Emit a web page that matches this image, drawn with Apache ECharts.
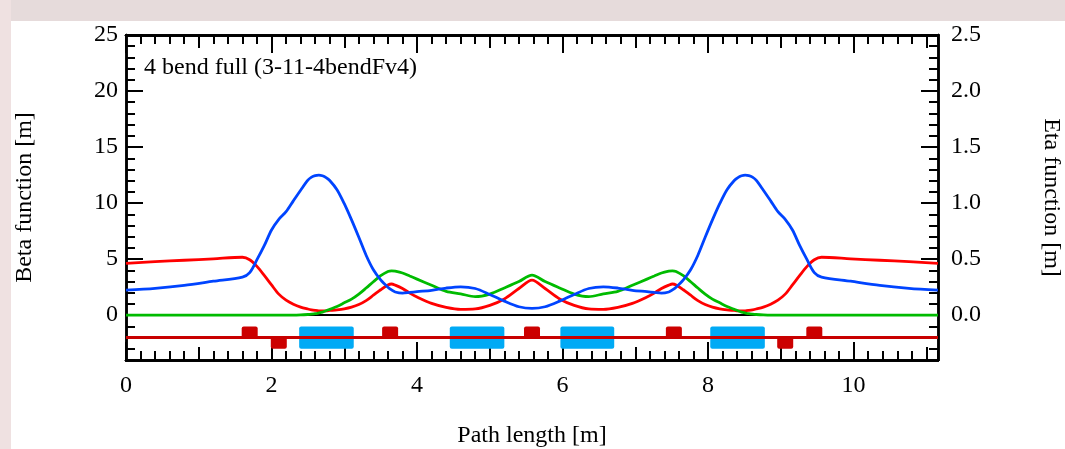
<!DOCTYPE html>
<html>
<head>
<meta charset="utf-8">
<title>4 bend full (3-11-4bendFv4)</title>
<script src="https://cdn.jsdelivr.net/npm/echarts@6/dist/echarts.min.js"></script>
<style>
  html, body { margin: 0; padding: 0; background: #ffffff; }
  #chart { width: 1065px; height: 449px; }
</style>
</head>
<body>
<div id="chart"></div>
<script>
// Lattice optics: path length [m] and the functions sampled along it
const pathLength = [
  0, 0.4, 0.8, 1.2, 1.6, 1.7, 1.8, 1.9, 2.0, 2.1, 2.2, 2.3, 2.4, 2.5, 2.55, 2.6, 2.65, 2.7, 2.75, 2.8,
  2.9, 3.0, 3.1, 3.2, 3.3, 3.4, 3.5, 3.6, 3.65, 3.7, 3.8, 3.9, 4.0, 4.2, 4.4, 4.6, 4.8, 5.0, 5.2, 5.4,
  5.58,
  5.76, 5.96, 6.16, 6.36, 6.56, 6.76, 6.96, 7.16, 7.26, 7.36, 7.46, 7.51, 7.56, 7.66, 7.76, 7.86, 7.96, 8.06, 8.16, 8.26,
  8.36, 8.41, 8.46, 8.51, 8.56, 8.61, 8.66, 8.76, 8.86, 8.96, 9.06, 9.16, 9.26, 9.36, 9.46, 9.56, 9.96, 10.36, 10.76, 11.16
];
// Horizontal beta function [m]
const betaX = [
  4.62, 4.77, 4.90, 5.03, 5.17, 4.95, 4.35, 3.55, 2.70, 1.88, 1.34, 0.98, 0.72, 0.55, 0.48, 0.43, 0.39, 0.38, 0.39, 0.42,
  0.48, 0.57, 0.72, 0.95, 1.30, 1.78, 2.27, 2.70, 2.78, 2.68, 2.38, 1.97, 1.62, 1.05, 0.70, 0.52, 0.56, 0.88, 1.45, 2.38,
  3.13,
  2.38, 1.45, 0.88, 0.56, 0.52, 0.70, 1.05, 1.62, 1.97, 2.38, 2.68, 2.78, 2.70, 2.27, 1.78, 1.30, 0.95, 0.72, 0.57, 0.48,
  0.42, 0.39, 0.38, 0.39, 0.43, 0.48, 0.55, 0.72, 0.98, 1.34, 1.88, 2.70, 3.55, 4.35, 4.95, 5.17, 5.03, 4.90, 4.77, 4.62
];
// Vertical beta function [m]
const betaY = [
  2.23, 2.40, 2.66, 3.03, 3.40, 3.80, 4.95, 6.20, 7.60, 8.55, 9.23, 10.20, 11.15, 12.05, 12.32, 12.46, 12.50, 12.44, 12.28, 12.02,
  11.20, 9.95, 8.50, 6.95, 5.35, 4.05, 3.15, 2.50, 2.25, 2.07, 1.97, 2.03, 2.10, 2.22, 2.42, 2.53, 2.38, 1.85, 1.25, 0.75,
  0.60,
  0.75, 1.25, 1.85, 2.38, 2.53, 2.42, 2.22, 2.10, 2.03, 1.97, 2.07, 2.25, 2.50, 3.15, 4.05, 5.35, 6.95, 8.50, 9.95, 11.20,
  12.02, 12.28, 12.44, 12.50, 12.46, 12.32, 12.05, 11.15, 10.20, 9.23, 8.55, 7.60, 6.20, 4.95, 3.80, 3.40, 3.03, 2.66, 2.40, 2.23
];
// Dispersion (eta) [m]
const eta = [
  0, 0, 0, 0, 0, 0, 0, 0, 0, 0, 0, 0, 0.002, 0.006, 0.009, 0.013, 0.020, 0.028, 0.039, 0.052,
  0.078, 0.110, 0.143, 0.188, 0.242, 0.298, 0.352, 0.390, 0.396, 0.392, 0.376, 0.349, 0.322, 0.267, 0.212, 0.190, 0.165, 0.188, 0.243, 0.300,
  0.357,
  0.300, 0.243, 0.188, 0.165, 0.190, 0.212, 0.267, 0.322, 0.349, 0.376, 0.392, 0.396, 0.390, 0.352, 0.298, 0.242, 0.188, 0.143, 0.110, 0.078,
  0.052, 0.039, 0.028, 0.020, 0.013, 0.009, 0.006, 0.002, 0, 0, 0, 0, 0, 0, 0, 0, 0, 0, 0, 0
];

// Magnets: [start, end] in metres; quadrupoles carry +1 (focusing) or -1 (defocusing)
const bendMagnets = [[2.38, 3.13], [4.45, 5.20], [5.97, 6.71], [8.03, 8.78]];
const quadMagnets = [
  [1.59, 1.81, 1], [1.99, 2.21, -1], [3.52, 3.74, 1], [5.47, 5.69, 1],
  [7.42, 7.64, 1], [8.95, 9.17, -1], [9.35, 9.57, 1]
];

// Axis ranges and tick values
const pathRange = [0, 11.16];
const betaRange = [-4, 25];
const etaRange = [-0.4, 2.5];
const pathMajorTicks = [0, 2, 4, 6, 8, 10];
const pathMidTicks = [1, 3, 5, 7, 9, 11];
const betaMajorTicks = [0, 5, 10, 15, 20, 25];
const etaMajorTicks = [0, 0.5, 1.0, 1.5, 2.0, 2.5];
const latticeLevel = -2;

const FONT = 'Liberation Serif';
const FS = 24;
const INK = '#000000';
const FRAME_W = 2.5;
const CURVE_W = 2.8;

const chart = echarts.init(document.getElementById('chart'), null, { renderer: 'canvas' });

function xAxisLayer(position, tickValues, tickLen, withLabels, extra) {
  return Object.assign({
    type: 'value', position: position, min: pathRange[0], max: pathRange[1],
    axisLine: { show: true, onZero: false, lineStyle: { color: INK, width: FRAME_W } },
    axisTick: { show: true, inside: true, length: tickLen, customValues: tickValues,
                lineStyle: { color: INK, width: 2 } },
    axisLabel: withLabels
      ? { show: true, customValues: tickValues, color: INK, fontFamily: FONT, fontSize: FS, margin: 14 }
      : { show: false },
    splitLine: { show: false }
  }, extra || {});
}

function yAxisLayer(position, range, tickOpt, tickLen, labelOpt, extra) {
  return Object.assign({
    type: 'value', position: position, min: range[0], max: range[1],
    axisLine: { show: true, onZero: false, lineStyle: { color: INK, width: FRAME_W } },
    axisTick: Object.assign({ show: true, inside: true, length: tickLen,
                              lineStyle: { color: INK, width: 2 } }, tickOpt),
    axisLabel: labelOpt || { show: false },
    splitLine: { show: false }
  }, extra || {});
}

const pts = (ys) => pathLength.map((s, i) => [s, ys[i]]);

function magnetShape(params, api) {
  const s0 = api.value(0), s1 = api.value(1), kind = api.value(2);
  let top = latticeLevel + 1, bottom = latticeLevel - 1, fill = '#00aaf5';
  if (kind === 1) { top = latticeLevel + 1; bottom = latticeLevel; fill = '#cc0000'; }
  if (kind === -1) { top = latticeLevel; bottom = latticeLevel - 1; fill = '#cc0000'; }
  const a = api.coord([s0, top]);
  const b = api.coord([s1, bottom]);
  return {
    type: 'rect',
    shape: { x: a[0], y: a[1], width: b[0] - a[0], height: b[1] - a[1], r: 2 },
    style: { fill: fill }
  };
}

function curve(name, values, axisIndex, color) {
  return {
    name: name, type: 'line', xAxisIndex: 0, yAxisIndex: axisIndex,
    data: pts(values), showSymbol: false, smooth: 0.3,
    lineStyle: { color: color, width: CURVE_W }, itemStyle: { color: color }
  };
}

chart.setOption({
  animation: false,
  backgroundColor: '#ffffff',
  // slide backdrop around the white plot panel
  graphic: [
    { type: 'rect', z: -10, silent: true, shape: { x: 0, y: 0, width: 1065, height: 21 },
      style: { fill: '#e6dbdb' } },
    { type: 'rect', z: -10, silent: true, shape: { x: 0, y: 0, width: 11, height: 449 },
      style: { fill: '#efe1e1' } }
  ],
  title: {
    text: '4 bend full (3-11-4bendFv4)',
    left: 139, top: 51,
    textStyle: { fontFamily: FONT, fontSize: FS, fontWeight: 'normal', color: INK }
  },
  grid: { left: 126, right: 127, top: 35, bottom: 89, containLabel: false, outerBoundsMode: 'none' },
  xAxis: [
    xAxisLayer('bottom', pathMajorTicks, 18, true, {
      name: 'Path length [m]', nameLocation: 'middle', nameGap: 64,
      nameTextStyle: { fontFamily: FONT, fontSize: FS, color: INK }
    }),
    xAxisLayer('bottom', pathMidTicks, 13, false),
    xAxisLayer('bottom', null, 9, false, { interval: 0.2 }),
    xAxisLayer('top', pathMajorTicks, 18, false),
    xAxisLayer('top', pathMidTicks, 13, false),
    xAxisLayer('top', null, 9, false, { interval: 0.2 }),
    // line through zero of the beta scale
    {
      type: 'value', position: 'bottom', min: pathRange[0], max: pathRange[1],
      axisLine: { show: true, onZero: true, onZeroAxisIndex: 0, lineStyle: { color: INK, width: 2 } },
      axisTick: { show: false }, axisLabel: { show: false }, splitLine: { show: false }
    }
  ],
  yAxis: [
    yAxisLayer('left', betaRange, { customValues: betaMajorTicks }, 17,
      { show: true, customValues: betaMajorTicks, color: INK, fontFamily: FONT, fontSize: FS, margin: 8 },
      { name: 'Beta function [m]', nameLocation: 'middle', nameGap: 89,
        nameTextStyle: { fontFamily: FONT, fontSize: FS, color: INK } }),
    yAxisLayer('left', betaRange, {}, 9, null, { interval: 1 }),
    yAxisLayer('right', etaRange, { customValues: etaMajorTicks }, 17,
      { show: true, customValues: etaMajorTicks, color: INK, fontFamily: FONT, fontSize: FS, margin: 13,
        formatter: (v) => v.toFixed(1) },
      { name: 'Eta function [m]', nameLocation: 'middle', nameGap: 101, nameRotate: -90,
        nameTextStyle: { fontFamily: FONT, fontSize: FS, color: INK } }),
    yAxisLayer('right', etaRange, {}, 9, null, { interval: 0.1 })
  ],
  series: [
    {
      name: 'bends', type: 'custom', xAxisIndex: 0, yAxisIndex: 0,
      renderItem: magnetShape, silent: true,
      data: bendMagnets.map((m) => [m[0], m[1], 0]),
      encode: { x: [0, 1] },
      markLine: {
        silent: true, symbol: 'none', label: { show: false },
        lineStyle: { color: '#c80000', width: 3, type: 'solid' },
        emphasis: { disabled: true },
        data: [{ yAxis: latticeLevel }]
      }
    },
    {
      name: 'quadrupoles', type: 'custom', xAxisIndex: 0, yAxisIndex: 0,
      renderItem: magnetShape, silent: true,
      data: quadMagnets,
      encode: { x: [0, 1] }
    },
    curve('Beta x', betaX, 0, '#ff0000'),
    curve('Eta', eta, 2, '#00bb00'),
    curve('Beta y', betaY, 0, '#0044ff')
  ]
});
</script>
</body>
</html>
